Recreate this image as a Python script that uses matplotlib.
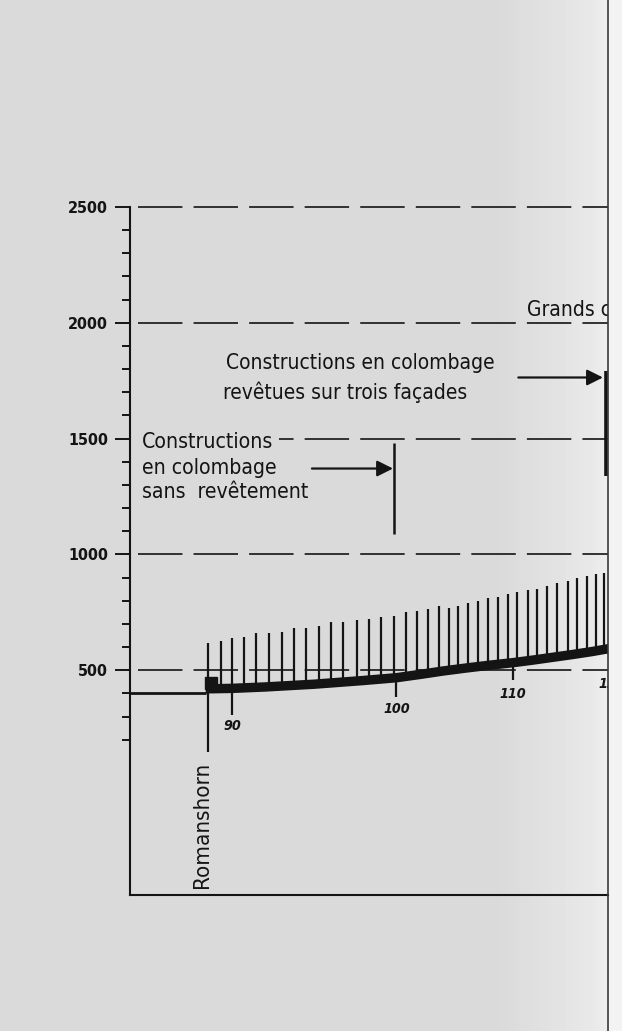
import numpy as np
import matplotlib
matplotlib.use("Agg")
import matplotlib.pyplot as plt
from matplotlib import font_manager
from matplotlib.lines import Line2D
from matplotlib.patches import Rectangle
from matplotlib.ticker import FixedLocator

# --- values (km along the line, metres above sea) ---
profile_km = [88.4, 90, 92, 95, 98, 100, 102, 104, 106, 108, 110, 112, 114, 116, 118, 120]
profile_m = [420, 422, 428, 440, 456, 468, 482, 497, 510, 522, 533, 544, 556, 568, 581, 596]

lake_km = [83.8, 88.4]
lake_m = [400, 400]

hatch_km = [88.54, 89.33, 90.0, 90.73, 91.46, 92.25, 93.04, 93.77, 94.5, 95.29, 96.02,
            96.75, 97.58, 98.33, 99.06, 99.85, 100.82, 101.76, 102.7, 103.65, 104.51,
            105.28, 106.14, 107.0, 107.85, 108.71, 109.57, 110.4, 111.52, 112.42, 113.43,
            114.44, 115.56, 116.46, 117.47, 118.38, 119.19]
hatch_base = [422, 422, 423, 425, 427, 430, 432, 435, 437, 441, 445,
              449, 454, 459, 463, 468, 474, 480, 487, 495, 501,
              506, 512, 517, 522, 527, 532, 536, 542, 547, 553,
              560, 566, 574, 580, 586, 592]
hatch_top = [616, 625, 638, 642, 660, 660, 664, 681, 681, 690, 707,
             707, 716, 720, 728, 733, 750, 754, 763, 776, 767,
             776, 789, 797, 810, 815, 828, 836, 845, 853, 866,
             879, 884, 897, 905, 914, 918]

km_ticks = [90, 100, 110, 120]
km_tick_top = [422, 468, 533, 596]
km_tick_low = [306, 384, 457, 500]
km_label_m = [259, 332, 397, 440]

y_major = [500, 1000, 1500, 2000, 2500]
y_minor = [200, 300, 400, 600, 700, 800, 900, 1100, 1200, 1300, 1400,
           1600, 1700, 1800, 1900, 2100, 2200, 2300, 2400]

station_km = 88.54
station_low = 147

# the photographed page bends into the gutter, so km are squeezed to the right
warp_km = [70, 90, 100, 110, 120, 140]
warp_pos = [-97, 232, 396.5, 513, 612, 810]

def fwd(x):
    return np.interp(x, warp_km, warp_pos)

def inv(u):
    return np.interp(u, warp_pos, warp_km)

INK = "#141414"
BG = "#dadada"

names = {f.name for f in font_manager.fontManager.ttflist}
if "Liberation Sans Narrow" in names:
    FONT = dict(fontfamily="Liberation Sans Narrow")
    k = 1.2
else:
    FONT = dict(fontfamily="DejaVu Sans", fontstretch="condensed")
    k = 1.0

fig = plt.figure(figsize=(6.22, 10.31), dpi=100, facecolor=BG)

# paper: a bit lighter towards the gutter
paper = fig.add_axes([0, 0, 1, 1], zorder=-1)
shade = np.interp(np.arange(622), [0, 500, 590, 607, 608, 621], [0.855, 0.855, 0.91, 0.93, 0.95, 0.95])
paper.imshow(shade[None, :], cmap="gray", vmin=0, vmax=1, aspect="auto", extent=[0, 1, 0, 1])
paper.set_axis_off()

ax = fig.add_axes([130 / 622, 136 / 1031, 478 / 622, 688 / 1031])
ax.set_facecolor("none")
ax.set_xscale("function", functions=(fwd, inv))
ax.set_xlim(83.8, 119.6)
ax.set_ylim(-470, 2500)

for side in ["top", "right"]:
    ax.spines[side].set_visible(False)
for side in ["left", "bottom"]:
    ax.spines[side].set_linewidth(1.5)
    ax.spines[side].set_color(INK)

ax.set_xticks([])
ax.xaxis.set_minor_locator(FixedLocator([]))
ax.yaxis.set_major_locator(FixedLocator(y_major))
ax.yaxis.set_minor_locator(FixedLocator(y_minor))
ax.set_yticklabels([str(v) for v in y_major], fontweight="bold", fontsize=11.5 * k,
                   color=INK, **FONT)
ax.tick_params(axis="y", which="major", length=10.8, width=1.4, color=INK, pad=5)
ax.tick_params(axis="y", which="minor", length=5.8, width=1.4, color=INK)

# dashed height lines
lw = 1.2
ax.hlines(y_major, 84.29, 119.6, colors=INK, linewidth=lw,
          linestyles=[(0, (32 / lw, 8 / lw))], zorder=1, clip_on=False)

# lake and profile
ax.plot(lake_km, lake_m, color=INK, lw=2.0, solid_capstyle="butt", zorder=3)
ax.vlines(hatch_km, hatch_base, hatch_top, colors=INK, linewidth=1.6, zorder=2)
ax.plot(profile_km, profile_m, color=INK, lw=6.8, solid_capstyle="butt", zorder=3)
ax.plot([88.7], [447], marker="s", ms=8, color=INK, zorder=3)

# km marks under the profile
ax.vlines(km_ticks, km_tick_low, km_tick_top, colors=INK, linewidth=1.6, zorder=2)
for km, m in zip(km_ticks, km_label_m):
    ax.text(km, m, str(km), ha="center", va="center", fontsize=10.3 * k, fontweight="bold",
            fontstyle="italic", color=INK, clip_on=True, **FONT)

# Romanshorn station
ax.vlines([station_km], station_low, 422, colors=INK, linewidth=1.6, zorder=2)
ax.text(88.2, -168, "Romanshorn", rotation=90, ha="center", va="center",
        fontsize=16 * k, color=INK, **FONT)

# annotations
ax.text(84.53, 1461, "Constructions", ha="left", va="baseline", fontsize=15.2 * k, color=INK,
        bbox=dict(boxstyle="square,pad=0.25", fc=BG, ec="none"), zorder=4, **FONT)
ax.text(84.53, 1348, "en colombage", ha="left", va="baseline", fontsize=15.2 * k,
        color=INK, **FONT)
ax.text(84.53, 1244, "sans  revêtement", ha="left", va="baseline", fontsize=15.2 * k,
        color=INK, **FONT)
ax.annotate("", xy=(99.79, 1371), xytext=(94.86, 1371),
            arrowprops=dict(arrowstyle="-|>,head_length=0.6,head_width=0.3", lw=1.6,
                            color=INK, shrinkA=0, shrinkB=0, mutation_scale=16))
ax.vlines([99.85], 1090, 1483, colors=INK, linewidth=1.8)

ax.text(97.78, 1802, "Constructions en colombage", ha="center", va="baseline",
        fontsize=15 * k, color=INK, **FONT)
ax.text(96.9, 1672, "revêtues sur trois façades", ha="center", va="baseline",
        fontsize=15 * k, color=INK, **FONT)
ax.annotate("", xy=(119.09, 1764), xytext=(110.54, 1764),
            arrowprops=dict(arrowstyle="-|>,head_length=0.6,head_width=0.3", lw=1.6,
                            color=INK, shrinkA=0, shrinkB=0, mutation_scale=16))
ax.vlines([119.4], 1340, 1793, colors=INK, linewidth=2.6)

ax.text(111.38, 2030, "Grands chalets", ha="left", va="baseline", fontsize=15 * k,
        color=INK, clip_on=True, **FONT)

# page edge at the gutter
fig.add_artist(Line2D([607.5 / 622, 607.5 / 622], [0, 1], transform=fig.transFigure,
                      color="#3a3a3a", lw=1.2, zorder=6))

fig.savefig("out.png", dpi=100, facecolor=BG)
